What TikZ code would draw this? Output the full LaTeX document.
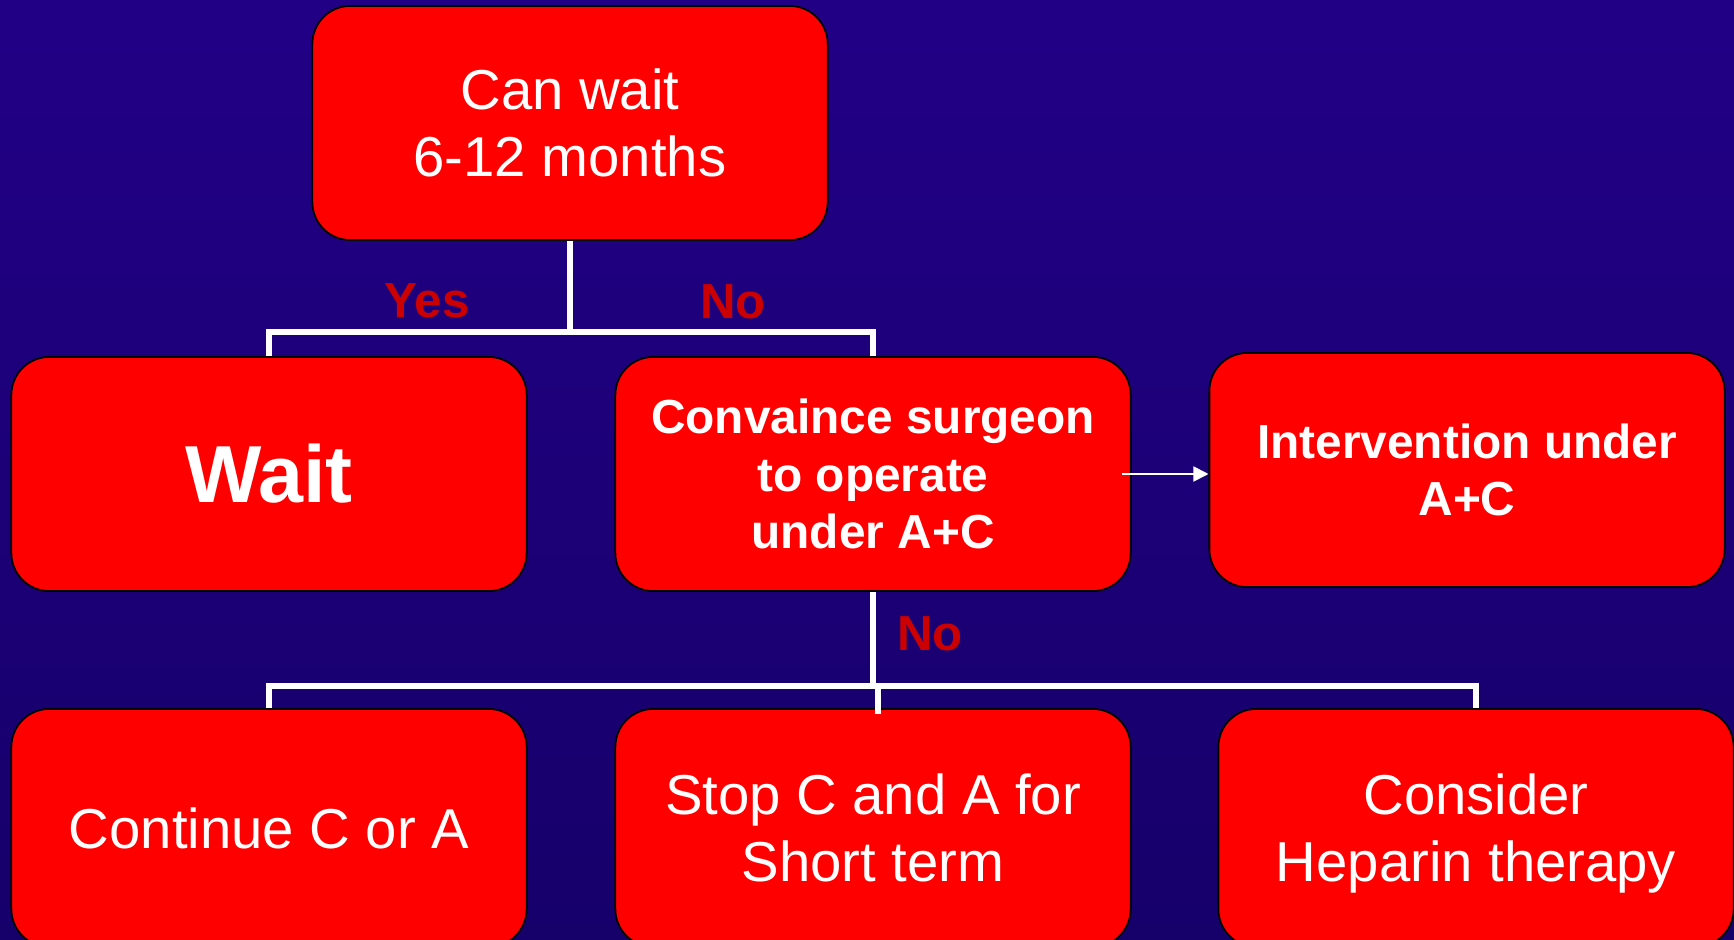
\documentclass[tikz,border=0pt]{standalone}
\usepackage{fontspec}
\setmainfont{Liberation Sans}
\usetikzlibrary{arrows.meta}
\definecolor{bgtop}{RGB}{34,0,134}
\definecolor{bgbottom}{RGB}{22,0,106}
\definecolor{boxred}{RGB}{255,0,0}
\definecolor{answerred}{RGB}{204,0,0}
\tikzstyle{redbox} = [rectangle, rounded corners=0.38cm,
minimum width=5.15cm,
minimum height=2.34cm,
align=center,
draw=black,
line width=0.5pt,
fill=boxred,
text=white]
\tikzstyle{link} = [white, line width=1.5pt]
\tikzstyle{arrow} = [white, line width=0.5pt, -{Triangle[length=4.3pt,width=4.3pt]}]
\tikzstyle{answer} = [text=answerred, font=\fontsize{14}{16}\selectfont\bfseries]

\begin{document}
\begin{tikzpicture}[x=0.01cm, y=-0.01cm]
        \clip (0,0) rectangle (1734,940);
        \shade [top color=bgtop, bottom color=bgbottom] (0,0) rectangle (1734,940);

        \node (can) [redbox, font=\fontsize{16}{19}\selectfont] at (570,123) {Can wait\\6-12 months};
        \node (wait) [redbox, font=\fontsize{23}{27}\selectfont\bfseries] at (269,474) {Wait};
        \node (conv) [redbox, font=\fontsize{13.6}{16.4}\selectfont\bfseries] at (873,474) {Convaince surgeon\\to operate\\under A+C};
        \node (interv) [redbox, font=\fontsize{13.6}{16}\selectfont\bfseries] at (1467,470) {Intervention under\\A+C};
        \node (cont) [redbox, minimum height=2.38cm, font=\fontsize{16}{19}\selectfont] at (269,828) {Continue C or A};
        \node (stop) [redbox, minimum height=2.38cm, font=\fontsize{16}{19}\selectfont] at (873,828) {Stop C and A for\\Short term};
        \node (hep) [redbox, minimum height=2.38cm, text depth=0pt, font=\fontsize{16}{19}\selectfont] at (1476,828) {Consider\\Heparin therapy};

        \coordinate (split1) at (570,332);
        \coordinate (split2) at (873,686);

        \draw [link] (can.south) -- (split1);
        \draw [link] (wait.north) |- (split1) -| (conv.north);
        \draw [link] (conv.south) -- (split2);
        \draw [link] (cont.north) |- (split2) -| (hep.north);
        \draw [link] ([xshift=1.4pt]split2) -- ([xshift=1.4pt, yshift=-1.7pt]stop.north);
        \draw [arrow] ([xshift=-2.8pt]conv.east) -- (conv.east -| interv.west);

        \node (yes) [answer] at (427,301) {Yes};
        \node (no1) [answer] at (733,302) {No};
        \node (no2) [answer] at (930,634) {No};
    \end{tikzpicture}
\end{document}
